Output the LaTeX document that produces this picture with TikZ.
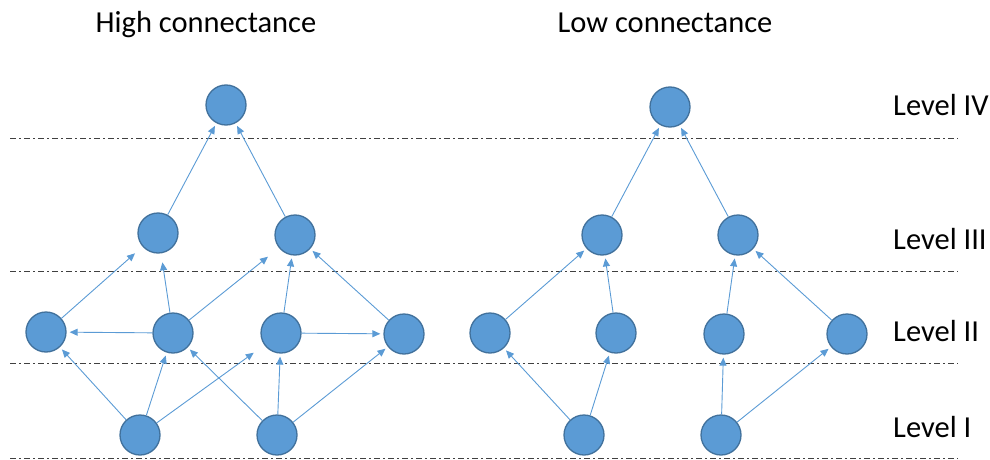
\documentclass[tikz,border=0pt]{standalone}
\usepackage{fontspec}
\setmainfont{Carlito}
\usetikzlibrary{arrows.meta}
\definecolor{nodeblue}{HTML}{5B9BD5}
\definecolor{nodeedge}{HTML}{41719C}

\begin{document}
\begin{tikzpicture}[x=1pt, y=-1pt,
        main/.style = {draw=nodeedge, fill=nodeblue, circle, line width=1.3pt, minimum size=40pt, inner sep=0pt},
        edge/.style = {draw=nodeblue, line width=0.9pt, -{Triangle[length=8pt,width=7pt]}, shorten >=3pt},
        sep/.style = {draw=black!75, line width=0.9pt, dash pattern=on 6pt off 3pt on 2pt off 3pt},
        txt/.style = {font=\fontsize{30.5}{36}\selectfont, inner sep=0pt}]
        \useasboundingbox (0,0) rectangle (990,460);

        \draw[sep] (10,138) -- (958,138);
        \draw[sep] (10,271) -- (958,271);
        \draw[sep] (10,363) -- (958,363);
        \draw[sep] (10,458) -- (958,458);

        \node[txt, anchor=base] (thigh) at (206,33) {High connectance};
        \node[txt, anchor=base] (tlow) at (665,33) {Low connectance};
        \node[txt, anchor=base west] (lev4) at (893,115) {Level IV};
        \node[txt, anchor=base west] (lev3) at (893,249) {Level III};
        \node[txt, anchor=base west] (lev2) at (893,341) {Level II};
        \node[txt, anchor=base west] (lev1) at (893,437) {Level I};

        % high connectance
        \node[main] (h4) at (226,105) {};
        \node[main] (h3a) at (158,233) {};
        \node[main] (h3b) at (295,235) {};
        \node[main] (h2a) at (46,332) {};
        \node[main] (h2b) at (173,333) {};
        \node[main] (h2c) at (281,333) {};
        \node[main] (h2d) at (404,334) {};
        \node[main] (h1a) at (140,435) {};
        \node[main] (h1b) at (277,435) {};

        \draw[edge] (h3a) -- (h4);
        \draw[edge] (h3b) -- (h4);
        \draw[edge, shorten >=10pt] (h2a) -- (h3a);
        \draw[edge, shorten >=9pt] (h2b) -- (h3a);
        \draw[edge, shorten >=14pt] (h2b) -- (h3b);
        \draw[edge] (h2b) -- (h2a);
        \draw[edge] (h2c) -- (h3b);
        \draw[edge] (h2d) -- (h3b);
        \draw[edge] (h2c) -- (h2d);
        \draw[edge] (h1a) -- (h2a);
        \draw[edge] (h1a) -- (h2b);
        \draw[edge, shorten >=13pt] (h1a) -- (h2c);
        \draw[edge] (h1b) -- (h2b);
        \draw[edge] (h1b) -- (h2c);
        \draw[edge] (h1b) -- (h2d);

        % low connectance
        \node[main] (l4) at (670,107) {};
        \node[main] (l3a) at (602,235) {};
        \node[main] (l3b) at (738,235) {};
        \node[main] (l2a) at (490,333) {};
        \node[main] (l2b) at (616,333) {};
        \node[main] (l2c) at (724,334) {};
        \node[main] (l2d) at (847,334) {};
        \node[main] (l1a) at (584,435) {};
        \node[main] (l1b) at (721,435) {};

        \draw[edge] (l3a) -- (l4);
        \draw[edge] (l3b) -- (l4);
        \draw[edge] (l2a) -- (l3a);
        \draw[edge] (l2b) -- (l3a);
        \draw[edge] (l2c) -- (l3b);
        \draw[edge] (l2d) -- (l3b);
        \draw[edge] (l1a) -- (l2a);
        \draw[edge] (l1a) -- (l2b);
        \draw[edge] (l1b) -- (l2c);
        \draw[edge] (l1b) -- (l2d);

    \end{tikzpicture}
\end{document}
